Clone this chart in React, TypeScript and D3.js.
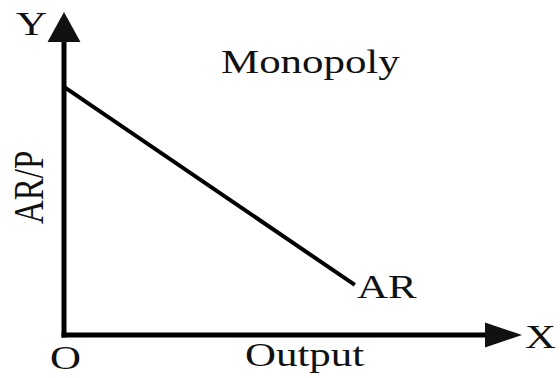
import React from "react";
import * as d3 from "d3";

// demand (average revenue) curve of a monopolist, in axis units
const arQuantity = [0, 63.5];
const arPrice = [76.8, 15.5];
const axisMax = 100;
const title = "Monopoly";
const curveLabel = "AR";
const xLabel = "Output";
const yLabel = "AR/P";

const width = 560;
const height = 378;
const origin = { x: 64, y: 335 };
const font = "'Liberation Serif', 'Times New Roman', serif";
const stretch = 1.3;

const App = () => {
  const x = d3.scaleLinear().domain([0, axisMax]).range([origin.x, 522]);
  const y = d3.scaleLinear().domain([0, axisMax]).range([origin.y, 12]);

  const line = d3
    .line<number>()
    .x((d, i) => x(arQuantity[i]))
    .y(d => y(d));

  const xEnd = x(axisMax);
  const yEnd = y(axisMax);

  // the source picture is stretched sideways, so every label is too
  const label = (text: string, tx: number, ty: number, extra = "") => (
    <text
      transform={`translate(${tx},${ty}) scale(${stretch},1)${extra}`}
      fontFamily={font}
      fontSize={33}
      fill="#111"
    >
      {text}
    </text>
  );

  return (
    <svg
      width={width}
      height={height}
      style={{ position: "absolute", left: 0, top: 0, background: "#fff" }}
    >
      {/* axes with arrow heads */}
      <line x1={origin.x} y1={y(0) + 2.5} x2={origin.x} y2={yEnd + 28} stroke="#000" strokeWidth={5} />
      <line x1={origin.x - 2.5} y1={origin.y} x2={xEnd - 35} y2={origin.y} stroke="#000" strokeWidth={5} />
      <path
        d={`M${origin.x},${yEnd} L${origin.x + 16.5},${yEnd + 30} L${origin.x - 16.5},${yEnd + 30} Z`}
        fill="#111"
      />
      <path
        d={`M${xEnd},${origin.y} L${xEnd - 37},${origin.y - 12.5} L${xEnd - 37},${origin.y + 12.5} Z`}
        fill="#111"
      />

      {/* AR curve */}
      <path d={line(arPrice) || ""} fill="none" stroke="#000" strokeWidth={4} />

      {label("Y", 16, 35)}
      {label("X", 525, 348)}
      {label("O", 50, 369)}
      {label(xLabel, 245, 366)}
      {label(title, 221, 73)}
      {label(curveLabel, 357, 298)}
      {label(yLabel, 43, 224, " rotate(-90)")}
    </svg>
  );
};

export default App;
